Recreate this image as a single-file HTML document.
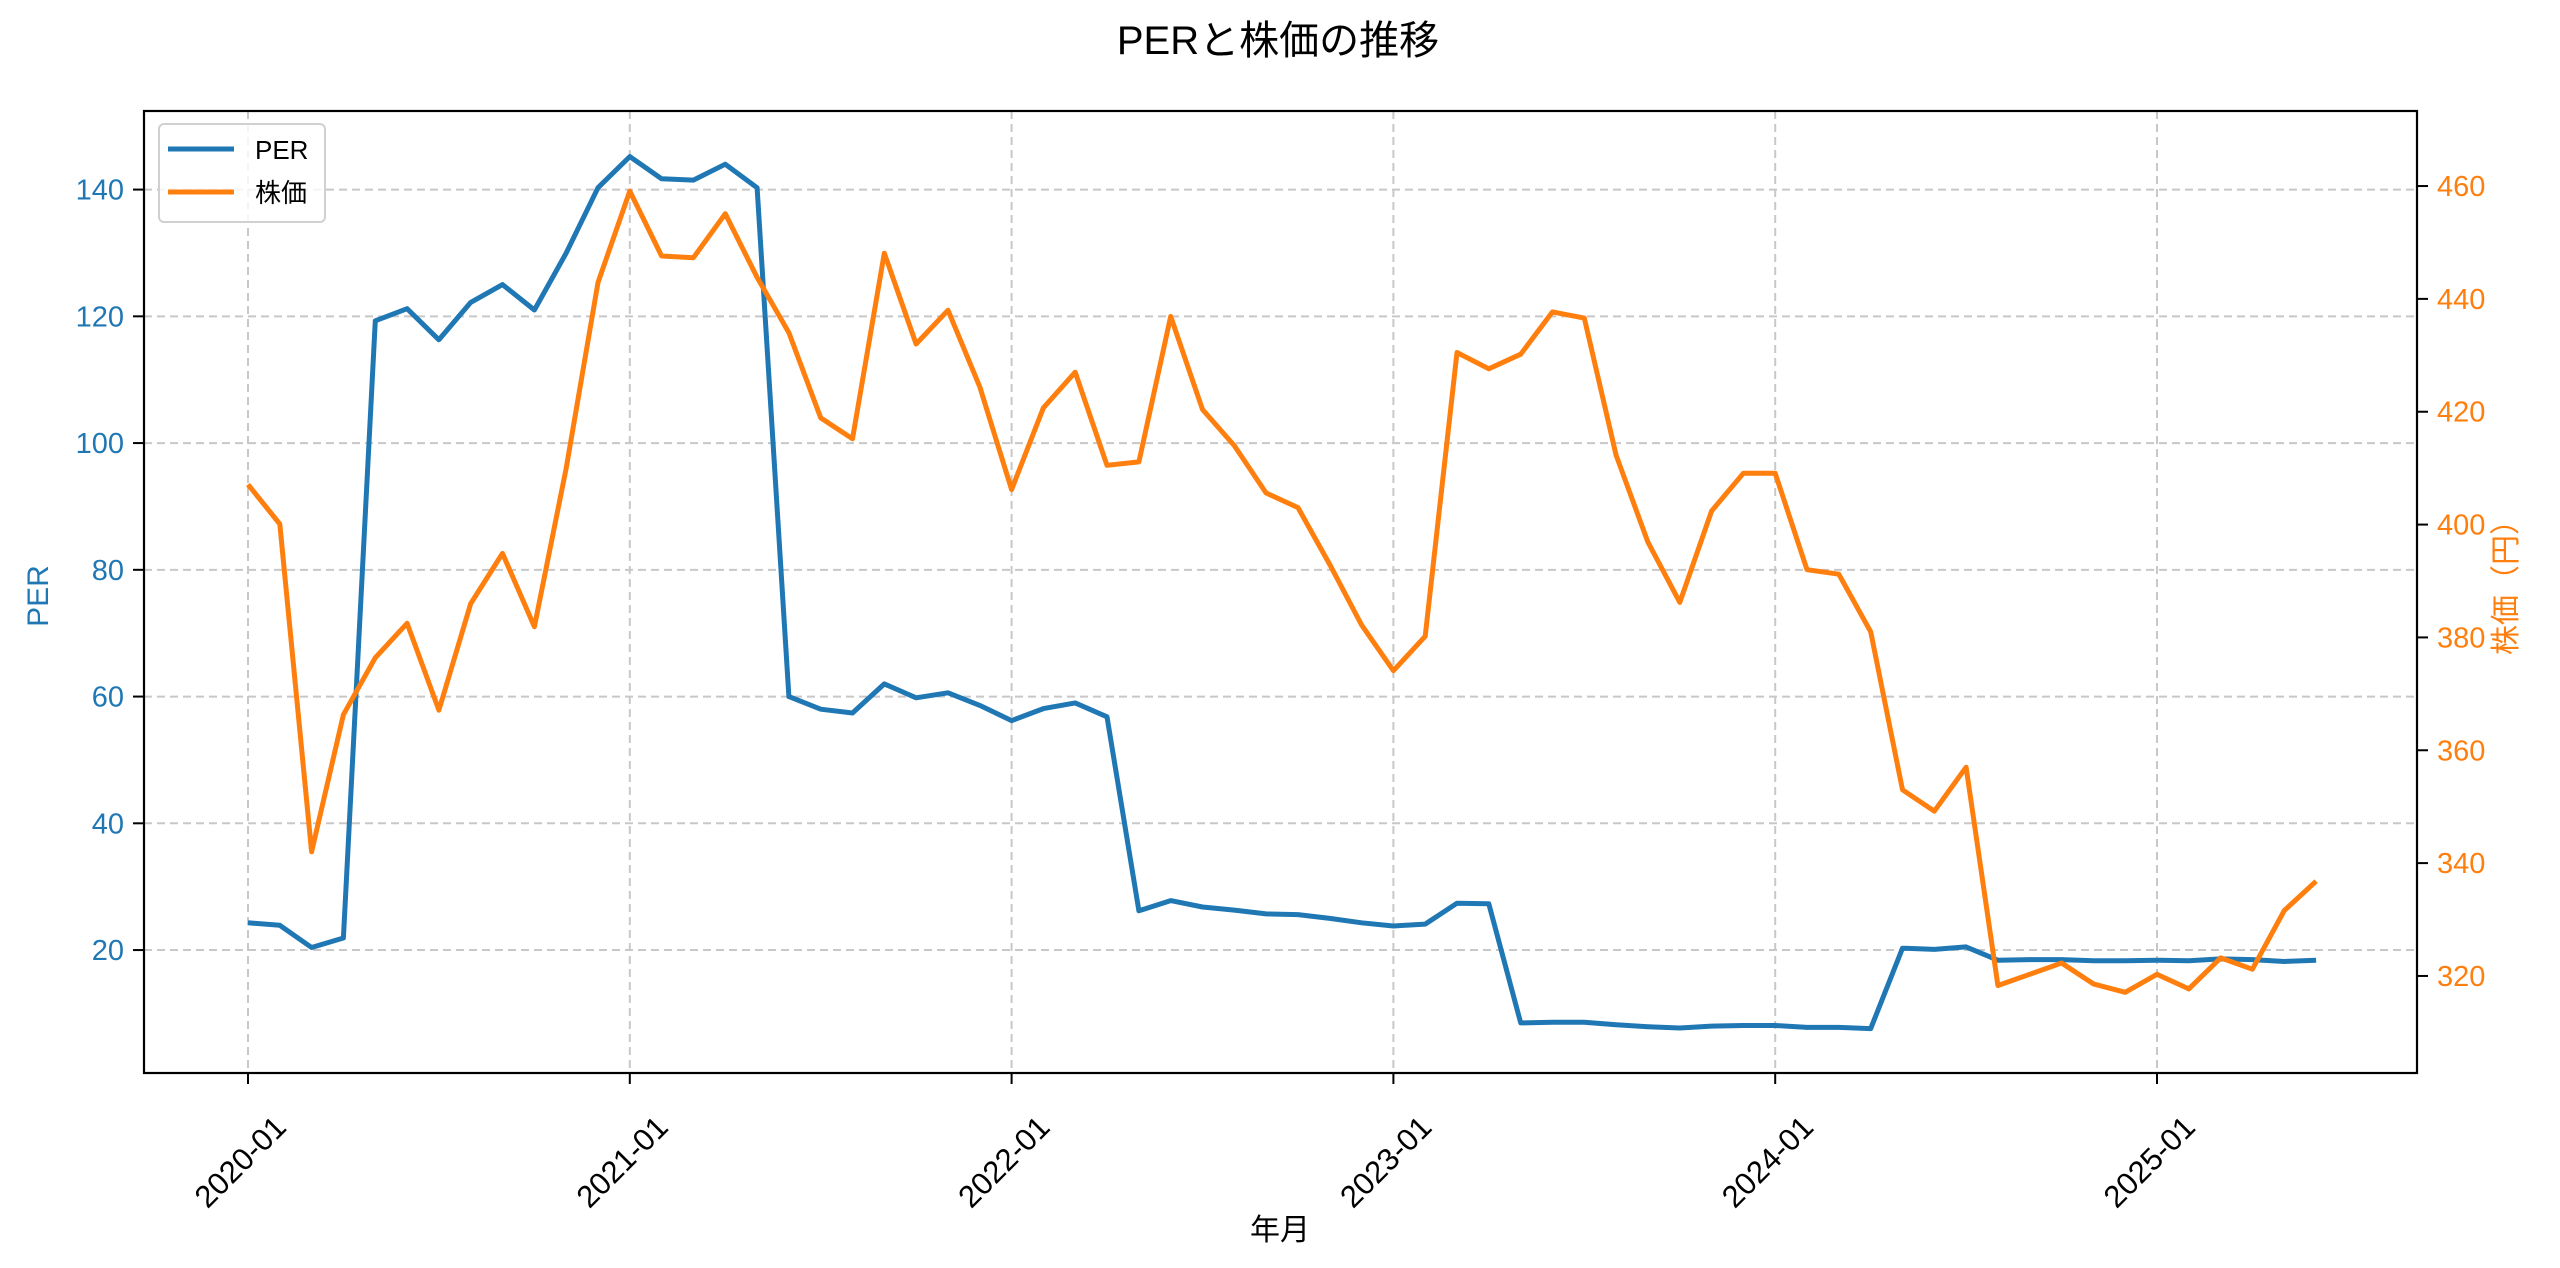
<!DOCTYPE html>
<html><head><meta charset="utf-8"><style>
html,body{margin:0;padding:0;background:#fff;}
svg{display:block;font-family:"Liberation Sans","Noto Sans CJK JP",sans-serif;}
</style></head><body>
<svg id="chart" width="2560" height="1268" viewBox="0 0 2560 1268" xmlns="http://www.w3.org/2000/svg">
<rect width="2560" height="1268" fill="#fff"/>
<text x="1278" y="54" font-size="40" text-anchor="middle" fill="#000">PERと株価の推移</text>
<g id="grid"></g>
<g id="lines"></g>
<rect x="144" y="111" width="2273" height="962" fill="none" stroke="#000" stroke-width="2.2"/>
<g id="axes"></g>
<text x="1280" y="1240" font-size="30" text-anchor="middle" fill="#000">年月</text>
<text transform="translate(48,596) rotate(-90)" font-size="30" text-anchor="middle" fill="#1f77b4">PER</text>
<text transform="translate(2516,580) rotate(-90)" font-size="30" text-anchor="middle" fill="#ff7f0e">株価（円）</text>
<g>
<rect x="159" y="124" width="166" height="98" rx="5" fill="#fff" fill-opacity="0.8" stroke="#d0d0d0" stroke-width="2"/>
<line x1="168" y1="149" x2="234" y2="149" stroke="#1f77b4" stroke-width="5"/>
<text x="255" y="159" font-size="26" fill="#000">PER</text>
<line x1="168" y1="192" x2="234" y2="192" stroke="#ff7f0e" stroke-width="5"/>
<text x="255" y="202" font-size="26" fill="#000">株価</text>
</g>
</svg>
<script>
const startYear = 2020;
const perValues = [24.3,23.9,20.4,21.9,119.3,121.2,116.3,122.2,125,121,130,140.3,
145.2,141.7,141.5,144,140.3,60,58,57.4,62,59.8,60.6,58.6,
56.2,58.1,59,56.8,26.2,27.8,26.8,26.3,25.7,25.6,25,24.3,
23.8,24.1,27.4,27.3,8.5,8.6,8.6,8.2,7.9,7.7,8,8.1,
8.1,7.8,7.8,7.6,20.3,20.1,20.5,18.4,18.5,18.5,18.3,18.3,
18.4,18.3,18.6,18.5,18.2,18.4];
const priceValues = [407.1,400.1,342,366.3,376.4,382.5,367.1,386,394.9,381.9,410,442.9,
459.1,447.6,447.3,455.1,443.8,434,418.9,415.2,448.1,432,438,424.4,
406.2,420.7,427,410.5,411.1,436.9,420.4,414,405.6,403,392.9,382.2,
374.1,380.2,430.5,427.6,430.2,437.7,436.6,412.3,396.9,386.2,402.4,409.1,
409.1,392,391.2,381,353,349.2,357,318.3,320.3,322.3,318.6,317.1,
320.3,317.7,323.2,321.2,331.6,336.8];
const xTickLabels = ["2020-01","2021-01","2022-01","2023-01","2024-01","2025-01"];
const perTicks = [20,40,60,80,100,120,140];
const priceTicks = [320,340,360,380,400,420,440,460];

const NS = "http://www.w3.org/2000/svg";
const L=144,R=2417,T=111,B=1073;
const x0=248, pxPerMonth=(2157-248)/60;
function xScale(i){return x0+i*pxPerMonth;}
const perMin=0.6, perMax=152.4, prMin=302.8, prMax=473.3;
function yPer(v){return B-(v-perMin)/(perMax-perMin)*(B-T);}
function yPrice(v){return B-(v-prMin)/(prMax-prMin)*(B-T);}
function mk(tag,attrs,parent){const e=document.createElementNS(NS,tag);for(const k in attrs)e.setAttribute(k,attrs[k]);parent.appendChild(e);return e;}
const grid=document.getElementById('grid'), axes=document.getElementById('axes'), lines=document.getElementById('lines');

xTickLabels.forEach((lab,k)=>{
  const x=xScale(k*12);
  const g=mk('line',{x1:x,y1:T,x2:x,y2:B,stroke:'#c8c8c8','stroke-width':2,'stroke-dasharray':'8,5'},grid);
  
  
  const t=mk('line',{x1:x,y1:B,x2:x,y2:B+11,stroke:'#000','stroke-width':2},axes);
  
  
  const tx=mk('text',{transform:`translate(${x+40},${B+56}) rotate(-45)`,'font-size':31,'text-anchor':'end',fill:'#000'},axes);
  tx.textContent=lab;
  
  
});
perTicks.forEach(v=>{
  const y=yPer(v);
  const g=mk('line',{x1:L,y1:y,x2:R,y2:y,stroke:'#c8c8c8','stroke-width':2,'stroke-dasharray':'8,5'},grid);
  
  
  const t=mk('line',{x1:L-11,y1:y,x2:L,y2:y,stroke:'#000','stroke-width':2},axes);
  
  
  const tx=mk('text',{x:L-20,y:y+10,'font-size':29,'text-anchor':'end',fill:'#1f77b4'},axes);
  tx.textContent=v;
  
  
});
priceTicks.forEach(v=>{
  const y=yPrice(v);
  const t=mk('line',{x1:R,y1:y,x2:R+11,y2:y,stroke:'#000','stroke-width':2},axes);
  
  
  const tx=mk('text',{x:R+20,y:y+10,'font-size':29,'text-anchor':'start',fill:'#ff7f0e'},axes);
  tx.textContent=v;
  
  
});
const perPts=perValues.map((v,i)=>xScale(i).toFixed(1)+','+yPer(v).toFixed(1)).join(' ');
const pl=mk('polyline',{points:perPts,fill:'none',stroke:'#1f77b4','stroke-width':5,'stroke-linejoin':'round'},lines);


const prPts=priceValues.map((v,i)=>xScale(i).toFixed(1)+','+yPrice(v).toFixed(1)).join(' ');
const pr=mk('polyline',{points:prPts,fill:'none',stroke:'#ff7f0e','stroke-width':5,'stroke-linejoin':'round'},lines);


</script>
</body></html>
